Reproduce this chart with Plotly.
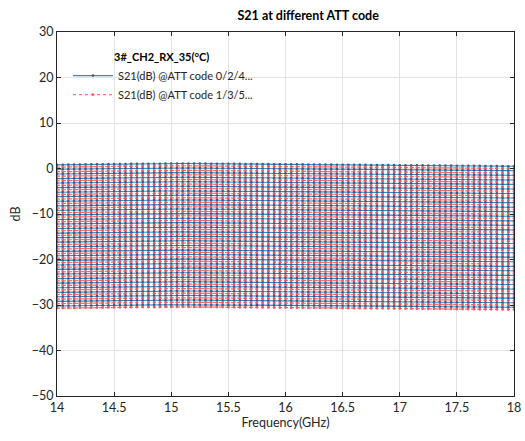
import plotly.graph_objects as go

# Frequency points (GHz)
freq_ghz = [round(14.0 + 0.05 * i, 2) for i in range(81)]

# S21 of ATT code 0 (dB)
base_s21 = [
    0.80, 0.82, 0.85, 0.86, 0.88, 0.90, 0.91, 0.93, 0.95, 0.96, 0.98, 0.99, 1.00, 1.02, 1.03, 1.04, 1.05, 1.05, 1.06, 1.07, 1.08,
    1.08, 1.09, 1.09, 1.08, 1.08, 1.07, 1.06, 1.05, 1.04, 1.03, 1.02, 1.01, 1.00, 0.99, 0.98, 0.97, 0.96, 0.95, 0.94, 0.93,
    0.92, 0.91, 0.90, 0.89, 0.88, 0.87, 0.86, 0.85, 0.84, 0.83, 0.82, 0.81, 0.80, 0.79, 0.78, 0.77, 0.76, 0.75, 0.74, 0.73,
    0.72, 0.71, 0.70, 0.68, 0.67, 0.66, 0.65, 0.64, 0.63, 0.62, 0.61, 0.60, 0.58, 0.57, 0.56, 0.55, 0.54, 0.52, 0.51, 0.50,
]

# Attenuation relative to code 0 for each ATT code (dB)
att_codes = list(range(64))
att_db = [
    0.00, 0.49, 0.98, 1.51, 2.00, 2.48, 3.02, 3.50, 3.99, 4.51, 5.00, 5.49, 6.01, 6.50, 6.98, 7.52,
    8.00, 8.49, 9.01, 9.50, 9.99, 10.51, 11.00, 11.48, 12.02, 12.50, 12.99, 13.51, 14.00, 14.49, 15.01, 15.50,
    16.00, 16.49, 16.98, 17.51, 18.00, 18.48, 19.02, 19.50, 19.99, 20.51, 21.00, 21.49, 22.01, 22.50, 22.98, 23.52,
    24.00, 24.49, 25.01, 25.50, 25.99, 26.51, 27.00, 27.48, 28.02, 28.50, 28.99, 29.51, 30.00, 30.49, 31.01, 31.50,
]

x_ticks = [14, 14.5, 15, 15.5, 16, 16.5, 17, 17.5, 18]
x_tick_labels = ["14", "14.5", "15", "15.5", "16", "16.5", "17", "17.5", "18"]
y_ticks = [-50, -40, -30, -20, -10, 0, 10, 20, 30]

legend_title = "3#_CH2_RX_35(°C)"
legend_names = ["S21(dB) @ATT code 0/2/4...", "S21(dB) @ATT code 1/3/5..."]
BLUE = "#3a86c4"
RED = "#ff6f6f"

fig = go.Figure()
shown = [False, False]
for code, att in zip(att_codes, att_db):
    grp = code % 2
    y = [b - att for b in base_s21]
    if grp == 0:
        line = dict(color=BLUE, width=1.1)
        marker = dict(color="#2a5f95", size=2.6)
    else:
        line = dict(color=RED, width=1.2, dash="dot")
        marker = dict(color="#f25a5a", size=2.8)
    fig.add_trace(go.Scatter(
        x=freq_ghz, y=y, mode="lines+markers", line=line, marker=marker,
        name=legend_names[grp],
        showlegend=not shown[grp],
    ))
    shown[grp] = True

axis_common = dict(
    showline=True, linecolor="#262626", linewidth=1, mirror="ticks",
    ticks="inside", ticklen=4, tickcolor="#262626",
    showgrid=True, gridcolor="#e3e3e3", gridwidth=1, zeroline=False,
    tickfont=dict(family="Lato", size=12.5, color="#262626"),
    automargin=False,
)

fig.update_layout(
    width=525, height=441,
    margin=dict(l=57, r=11, t=32, b=45),
    paper_bgcolor="white", plot_bgcolor="white",
    title=dict(text="<b>S21 at different ATT code</b>", x=0.587, xanchor="center",
               y=0.965, yanchor="middle", font=dict(family="Lato", size=12.5, color="#000000")),
    xaxis=dict(range=[14, 18], tickvals=x_ticks, ticktext=x_tick_labels,
               title=dict(text="Frequency(GHz)", font=dict(family="Lato", size=12.5, color="#262626"), standoff=4),
               **axis_common),
    yaxis=dict(range=[-50, 30], tickvals=y_ticks,
               title=dict(text="dB", font=dict(family="Lato", size=12.5, color="#262626"), standoff=8),
               **axis_common),
    legend=dict(
        x=0.024, y=0.92, xanchor="left", yanchor="top",
        bgcolor="rgba(255,255,255,0)", borderwidth=0,
        font=dict(family="Lato", size=11, color="#262626"),
        tracegroupgap=0, itemwidth=40,
    ),
    annotations=[dict(
        text="<b>" + legend_title + "</b>", xref="paper", yref="paper",
        x=(112 - 57) / 457, y=1 - (57 - 32) / 364, xanchor="left", yanchor="middle",
        showarrow=False, font=dict(family="Lato", size=11, color="#000000"),
    )],
    showlegend=True,
)

fig.write_html("out.html", config={"displayModeBar": False},
               post_script="document.body.style.margin='0';")
